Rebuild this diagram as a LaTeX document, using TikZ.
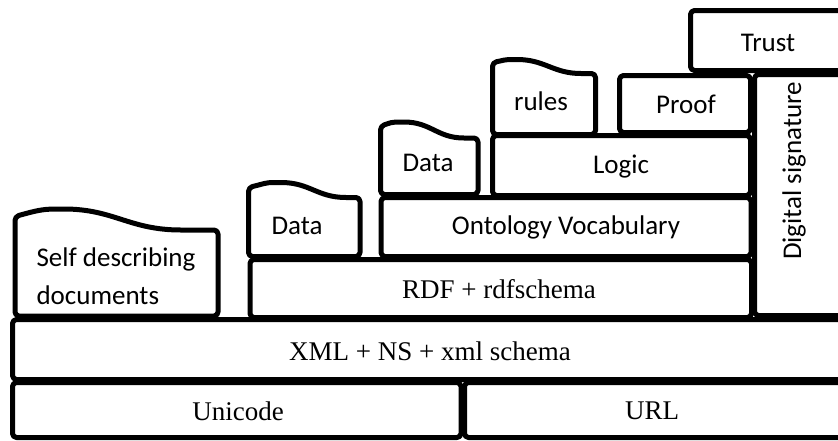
\documentclass[tikz,border=0pt]{standalone}
\usepackage{fontspec}
\setmainfont{Liberation Serif}
\newfontfamily\labelsans{Carlito}
\begin{document}
\begin{tikzpicture}[x=1pt,y=-1pt,
  layer/.style={draw=black,fill=white,line width=5pt,rounded corners=4pt,line join=round},
  serif/.style={font=\fontsize{27}{30}\selectfont\rmfamily},
  sans/.style={font=\fontsize{27}{38}\selectfont\labelsans}]
\clip (0,0) rectangle (838,440);
\fill[white] (0,0) rectangle (838,440);

% base layers
\draw[layer] (12.5,382.5) rectangle (461,437.5);
\draw[layer] (464.5,382.5) rectangle (850,437.5);
\draw[layer] (12.5,319.5) rectangle (850,379.5);

% self describing documents (wavy top)
\draw[layer] (15,316) -- (15,216.5)
  .. controls (35,211) and (42,209) .. (60,209)
  .. controls (114,209) and (129,230) .. (185,230)
  -- (218,230) -- (218,316) -- cycle;

% RDF layer and the layers above it
\draw[layer] (250,259.5) rectangle (751.5,317.5);
\draw[layer] (248.5,256.5) -- (248.5,187.5)
  .. controls (263,184) and (266,182.5) .. (277,182.5)
  .. controls (310,182.5) and (317,197.5) .. (350,197.5)
  -- (360,197.5) -- (360,256.5) -- cycle;
\draw[layer] (381,197.5) rectangle (751,256.5);
\draw[layer] (380.5,194.5) -- (380.5,126)
  .. controls (390,123) and (392,122) .. (400,122)
  .. controls (431,122) and (437,138) .. (468,138)
  -- (478,138) -- (478,194.5) -- cycle;
\draw[layer] (492.5,135.5) rectangle (750.5,195.5);
\draw[layer] (492.5,134.5) -- (492.5,62.5)
  .. controls (503,60.5) and (505,59.5) .. (513,59.5)
  .. controls (545,59.5) and (553,73.5) .. (585,73.5)
  -- (595.5,73.5) -- (595.5,134.5) -- cycle;
\draw[layer] (619.5,75.5) rectangle (750.5,132.5);
\draw[layer] (690.5,10.5) rectangle (850,70.5);
\draw[layer] (754.5,74.5) rectangle (850,315.5);

% labels
\node[serif] (unicode) at (238,411) {Unicode};
\node[serif] (url) at (652,411) {URL};
\node[serif] (xml) at (430,351) {XML + NS + xml schema};
\node[serif] (rdf) at (499,289) {RDF + rdfschema};
\node[sans,align=left,anchor=west] (selfdoc) at (33,276) {Self describing\\documents};
\node[sans] (data1) at (297,226) {Data};
\node[sans] (onto) at (566,227) {Ontology Vocabulary};
\node[sans] (data2) at (428,163) {Data};
\node[sans] (logic) at (621,167) {Logic};
\node[sans] (rules) at (541,101) {rules};
\node[sans] (proof) at (686,104) {Proof};
\node[sans] (trust) at (768,43) {Trust};
\node[sans,rotate=90] (digsig) at (794,171) {Digital signature};
\end{tikzpicture}
\end{document}
